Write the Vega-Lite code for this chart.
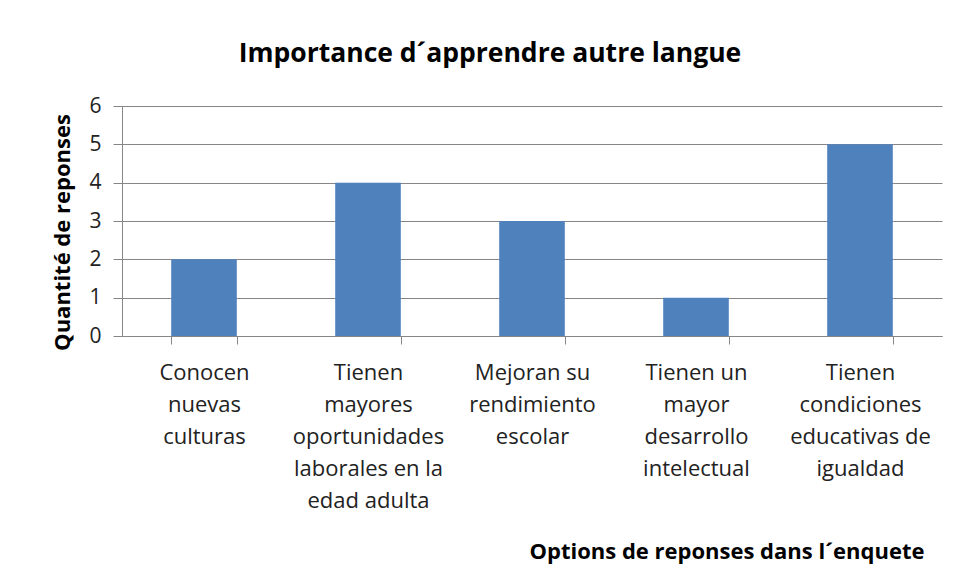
{
  "$schema": "https://vega.github.io/schema/vega-lite/v6.json",
  "autosize": "none",
  "width": 820,
  "height": 230,
  "padding": {"left": 122, "top": 106, "right": 16, "bottom": 247},
  "background": "white",
  "title": {
    "text": "Importance d´apprendre autre langue",
    "font": "Open Sans",
    "fontSize": 26.5,
    "fontWeight": "bold",
    "color": "#000000",
    "anchor": "middle",
    "dx": -42,
    "offset": 28
  },
  "data": {
    "values": [
      {"option": "Conocen nuevas culturas", "count": 2},
      {"option": "Tienen mayores oportunidades laborales en la edad adulta", "count": 4},
      {"option": "Mejoran su rendimiento escolar", "count": 3},
      {"option": "Tienen un mayor desarrollo intelectual", "count": 1},
      {"option": "Tienen condiciones educativas de igualdad", "count": 5}
    ]
  },
  "mark": {"type": "bar", "color": "#4F81BD"},
  "encoding": {
    "x": {
      "field": "option",
      "type": "nominal",
      "sort": null,
      "scale": {"paddingInner": 0.6, "paddingOuter": 0.3},
      "axis": {
        "title": "Options de reponses dans l´enquete",
        "titleFont": "Open Sans",
        "titleFontSize": 22,
        "titleFontWeight": "bold",
        "titleColor": "#000000",
        "titleAnchor": "end",
        "titleAlign": "right",
        "titleX": 802,
        "titleY": 205,
        "labelAngle": 0,
        "labelFont": "Open Sans",
        "labelFontSize": 22,
        "labelColor": "#222222",
        "labelLineHeight": 32,
        "labelPadding": 18,
        "labelLimit": 200,
        "labelBaseline": "top",
        "tickBand": "extent",
        "tickSize": 8,
        "tickColor": "#868686",
        "domainColor": "#868686",
        "labelExpr": "{'Conocen nuevas culturas': ['Conocen','nuevas','culturas'], 'Tienen mayores oportunidades laborales en la edad adulta': ['Tienen','mayores','oportunidades','laborales en la','edad adulta'], 'Mejoran su rendimiento escolar': ['Mejoran su','rendimiento','escolar'], 'Tienen un mayor desarrollo intelectual': ['Tienen un','mayor','desarrollo','intelectual'], 'Tienen condiciones educativas de igualdad': ['Tienen','condiciones','educativas de','igualdad']}[datum.value]"
      }
    },
    "y": {
      "field": "count",
      "type": "quantitative",
      "scale": {"domain": [0, 6]},
      "axis": {
        "title": "Quantité de reponses",
        "titleFont": "Open Sans",
        "titleFontSize": 22,
        "titleFontWeight": "bold",
        "titleColor": "#000000",
        "titlePadding": 14,
        "titleY": 126,
        "values": [0, 1, 2, 3, 4, 5, 6],
        "labelFont": "Open Sans",
        "labelFontSize": 21,
        "labelColor": "#222222",
        "labelPadding": 12,
        "tickSize": 9,
        "tickColor": "#868686",
        "domainColor": "#868686",
        "gridColor": "#868686",
        "gridWidth": 1
      }
    }
  },
  "config": {
    "view": {"stroke": null}
  }
}
